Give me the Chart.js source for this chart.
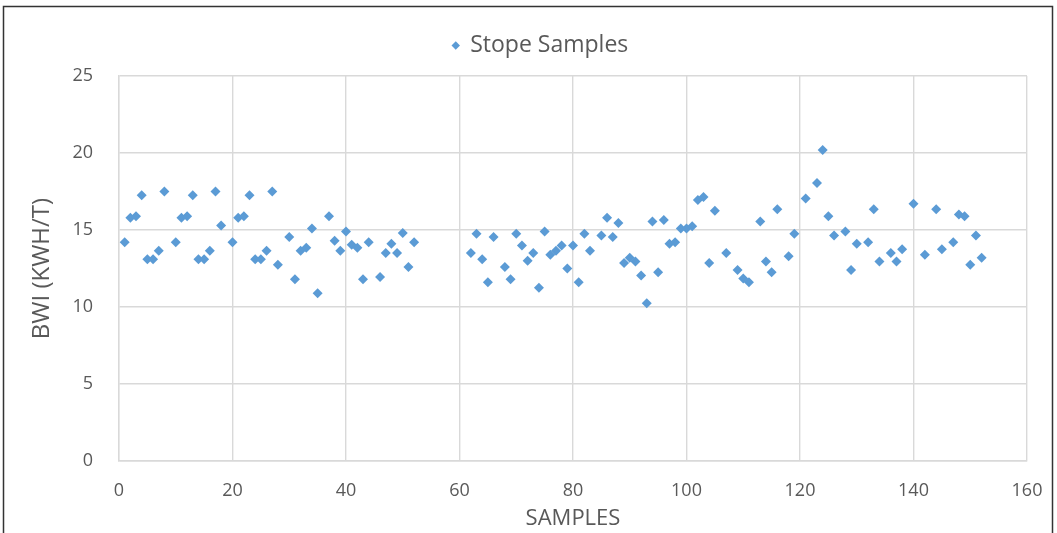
<!DOCTYPE html>
<html>
<head>
<meta charset="utf-8">
<script src="https://cdn.jsdelivr.net/npm/chart.js@4"></script>
<style>
  html, body { margin: 0; padding: 0; background: #fff; }
  #wrap { position: relative; width: 1057px; height: 533px; }
</style>
</head>
<body>
<div id="wrap"><canvas id="chart" width="1057" height="533"></canvas></div>
<script>
// sample number (x) and BWI in kWh/t (y)
const sampleNumbers = [
  1, 2, 3, 4, 5, 6, 7, 8, 10, 11, 12, 13, 14, 15, 16, 17, 18,
  20, 21, 22, 23, 24, 25, 26, 27, 28, 30, 31, 32, 33, 34, 35,
  37, 38, 39, 40, 41, 42, 43, 44, 46, 47, 48, 49, 50, 51, 52,
  62, 63, 64, 65, 66, 68, 69, 70, 71, 72, 73, 74, 75, 76, 77, 78, 79, 80,
  81, 82, 83, 85, 86, 87, 88, 89, 90, 91, 92, 93, 94, 95, 96, 97, 98, 99, 100,
  101, 102, 103, 104, 105, 107, 109, 110, 111, 113, 114, 115, 116, 118, 119,
  121, 123, 124, 125, 126, 128, 129, 130, 132, 133, 134, 136, 137, 138, 140,
  142, 144, 145, 147, 148, 149, 150, 151, 152
];
const bwiValues = [
  14.2, 15.8, 15.9, 17.25, 13.1, 13.1, 13.65, 17.5, 14.2, 15.8, 15.9, 17.25, 13.1, 13.1, 13.65, 17.5, 15.3,
  14.2, 15.8, 15.9, 17.25, 13.1, 13.1, 13.65, 17.5, 12.75, 14.55, 11.8, 13.65, 13.85, 15.1, 10.9,
  15.9, 14.3, 13.65, 14.9, 14.05, 13.85, 11.8, 14.2, 11.95, 13.5, 14.1, 13.5, 14.8, 12.6, 14.2,
  13.5, 14.75, 13.1, 11.6, 14.55, 12.6, 11.8, 14.75, 14.0, 13.0, 13.5, 11.25, 14.9, 13.4, 13.65, 14.0, 12.5, 14.0,
  11.6, 14.75, 13.65, 14.65, 15.8, 14.55, 15.45, 12.85, 13.2, 12.95, 12.05, 10.25, 15.55, 12.25, 15.65, 14.1, 14.2, 15.1, 15.1,
  15.25, 16.95, 17.15, 12.85, 16.25, 13.5, 12.4, 11.85, 11.6, 15.55, 12.95, 12.25, 16.35, 13.3, 14.75,
  17.05, 18.05, 20.2, 15.9, 14.65, 14.9, 12.4, 14.1, 14.2, 16.35, 12.95, 13.5, 12.95, 13.75, 16.7,
  13.4, 16.35, 13.75, 14.2, 16.0, 15.9, 12.75, 14.65, 13.2
];
const seriesName = 'Stope Samples';
const xRange = [0, 160];
const yRange = [0, 25];

const points = sampleNumbers.map((x, i) => ({ x: x, y: bwiValues[i] }));

const textGrey = '#595959';
const gridGrey = '#d9d9d9';
const font = 'Open Sans';

// thin dark frame round the whole chart, like the pasted Excel picture
// (also nudges the legend up and right, Excel places it a little differently)
const frame = {
  id: 'frame',
  afterLayout(chart) {
    chart.legend.left += 27;
    chart.legend.right += 27;
    chart.legend.top -= 9;
    chart.legend.bottom -= 9;
  },
  afterDraw(chart) {
    const ctx = chart.ctx;
    ctx.save();
    ctx.strokeStyle = '#333';
    ctx.lineWidth = 1.5;
    ctx.strokeRect(3.5, 6.5, 1049, 540);
    ctx.restore();
  }
};

new Chart(document.getElementById('chart'), {
  type: 'scatter',
  data: {
    datasets: [{
      label: seriesName,
      data: points,
      pointStyle: 'rectRot',
      pointRadius: 5,
      pointHoverRadius: 5,
      pointBorderWidth: 0,
      backgroundColor: '#5b9bd5',
      borderColor: '#5b9bd5'
    }]
  },
  options: {
    responsive: false,
    animation: false,
    layout: { padding: { top: 9, left: 0, right: 30, bottom: 0 } },
    plugins: {
      legend: {
        position: 'top',
        labels: {
          usePointStyle: true,
          boxWidth: 6,
          boxHeight: 6,
          padding: 15,
          color: textGrey,
          font: { family: font, size: 23 }
        }
      },
      tooltip: { enabled: false }
    },
    scales: {
      x: {
        type: 'linear',
        min: xRange[0],
        max: xRange[1],
        ticks: { stepSize: 20, color: textGrey, padding: 19, font: { family: font, size: 18 } },
        grid: { color: gridGrey, lineWidth: 1.4, drawTicks: false },
        border: { color: gridGrey, width: 1.4 },
        title: { display: true, text: 'SAMPLES', color: textGrey, font: { family: font, size: 22 }, padding: { top: 0, bottom: 1 } },
        afterFit(scale) {
          scale.height = 72;
          scale.paddingLeft = 0;
          scale.paddingRight = 0;
        }
      },
      y: {
        min: yRange[0],
        max: yRange[1],
        ticks: { stepSize: 5, color: textGrey, padding: 26, font: { family: font, size: 18 } },
        grid: { color: gridGrey, lineWidth: 1.4, drawTicks: false },
        border: { color: gridGrey, width: 1.4 },
        title: { display: true, text: 'BWI (KWH/T)', color: textGrey, font: { family: font, size: 24 }, padding: { top: 28, bottom: 0 } },
        afterFit(scale) {
          scale.width = 119;
          scale.paddingTop = 76;
          scale.paddingBottom = 0;
        }
      }
    }
  },
  plugins: [frame]
});
</script>
</body>
</html>
